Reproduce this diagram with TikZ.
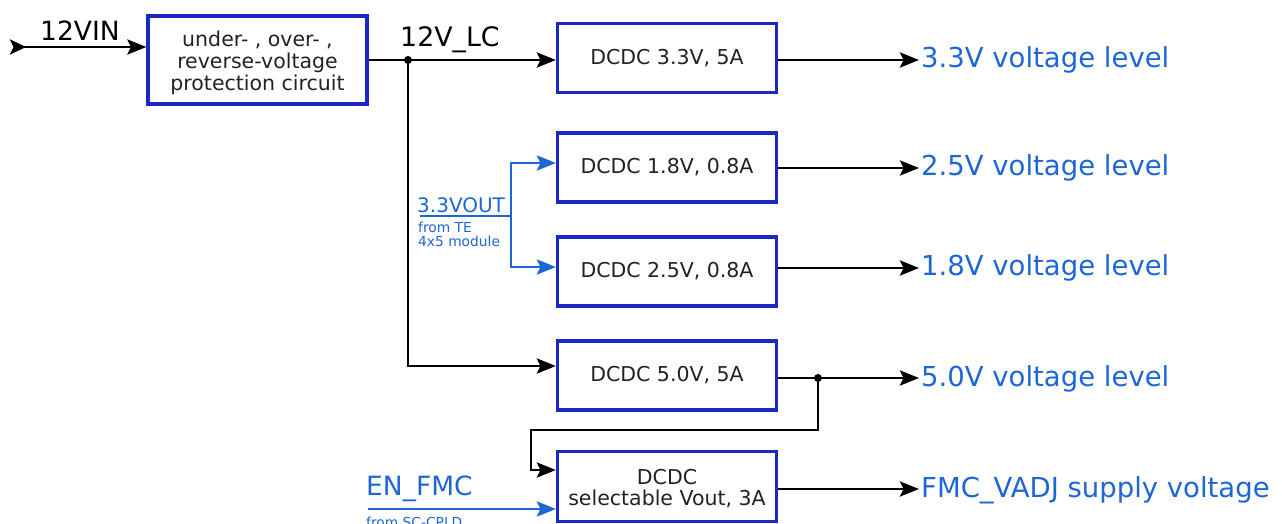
\documentclass[tikz,border=0pt]{standalone}
\usepackage{fontspec}
\setmainfont{DejaVu Sans}
\usetikzlibrary{arrows.meta,calc}
\definecolor{boxblue}{RGB}{28,40,196}
\definecolor{txtblue}{RGB}{30,102,212}
\definecolor{txtdark}{RGB}{34,34,34}
\begin{document}
\begin{tikzpicture}[x=1pt,y=-1pt,
  blk/.style={draw=boxblue, line width=3.2pt, minimum width=219pt, minimum height=69pt,
    align=center, font=\fontsize{20.5}{21.5}\selectfont, text=txtdark, inner sep=0pt},
  arr/.style={line width=2.8pt, draw=black, -{Stealth[length=19pt,width=15pt,inset=3.5pt]}},
  barr/.style={line width=2.8pt, draw=txtblue, -{Stealth[length=19pt,width=15pt,inset=3.5pt]}},
  outlbl/.style={anchor=base west, inner sep=0pt, text=txtblue, font=\fontsize{27.5}{29}\selectfont},
  biglbl/.style={anchor=base west, inner sep=0pt, font=\fontsize{26.8}{28}\selectfont},
  smlbl/.style={anchor=base west, inner sep=0pt, text=txtblue, font=\fontsize{13.8}{14}\selectfont},
  dot/.style={circle, fill=black, inner sep=0pt, minimum size=8pt}]
\useasboundingbox (0,0) rectangle (1282,524);

% boxes
\node[blk, minimum height=88pt, font=\fontsize{20.5}{22}\selectfont] (prot) at (257.5,60) {\rule{0pt}{22pt}under- , over- ,\\reverse-voltage\\protection circuit};
\node[blk] (d33) at (667,58) {DCDC 3.3V, 5A};
\node[blk] (d18) at (667,167.5) {DCDC 1.8V, 0.8A};
\node[blk] (d25) at (667,271.5) {DCDC 2.5V, 0.8A};
\node[blk] (d50) at (667,375.5) {DCDC 5.0V, 5A};
\node[blk, minimum height=70pt] (dsel) at (667,486.5) {\rule{0pt}{19pt}DCDC\\selectable Vout, 3A};

% input
\coordinate (vin) at (10,47);
\draw[line width=2.8pt, {Stealth[length=16pt,width=15pt,inset=3.5pt,reversed]}-{Stealth[length=19pt,width=15pt,inset=3.5pt]}] (vin) -- (prot.west |- vin);
\node[biglbl, font=\fontsize{26.5}{28}\selectfont] (lvin) at (40,41) {12VIN};

% 12V_LC
\coordinate (j1) at (408,60);
\draw[arr] (prot.east |- j1) -- (d33.west |- j1);
\node[biglbl] (llc) at (400,47) {12V\_LC};
\draw[arr] (j1) |- ($(d50.west)+(0,-9.5)$);
\node[dot] (dj1) at (j1) {};

% 3.3VOUT
\coordinate (b1) at (420,216);
\coordinate (b2) at (511,216);
\draw[line width=2.8pt, draw=txtblue] (b1) -- (b2);
\draw[barr] (b2) |- ($(d18.west)+(0,-4.5)$);
\draw[barr] (b2) |- ($(d25.west)+(0,-4.5)$);
\node[anchor=base west, inner sep=0pt, text=txtblue, font=\fontsize{20}{21}\selectfont] (l33out) at (417,212) {3.3VOUT};
\node[smlbl] (lte1) at (418,232) {from TE};
\node[smlbl] (lte2) at (418,246) {4x5 module};

% outputs
\coordinate (t33) at (919,60);
\coordinate (t18) at (919,168);
\coordinate (t25) at (919,268);
\coordinate (t50) at (919,378);
\coordinate (tsel) at (919,489);
\draw[arr] (d33.east |- t33) -- (t33);
\draw[arr] (d18.east |- t18) -- (t18);
\draw[arr] (d25.east |- t25) -- (t25);
\draw[arr] (d50.east |- t50) -- (t50);
\draw[arr] (dsel.east |- tsel) -- (tsel);
\node[outlbl] (o33) at ($(t33)+(2,7.5)$) {3.3V voltage level};
\node[outlbl] (o18) at ($(t18)+(2,7.5)$) {2.5V voltage level};
\node[outlbl] (o25) at ($(t25)+(2,7.5)$) {1.8V voltage level};
\node[outlbl] (o50) at ($(t50)+(2,8)$) {5.0V voltage level};
\node[outlbl] (osel) at ($(tsel)+(2,8)$) {FMC\_VADJ supply voltage};

% 5V feed to selectable
\coordinate (j2) at (818,378);
\coordinate (k1) at (531,430);
\draw[arr] (j2) |- (k1) |- ($(dsel.west)+(0,-16.5)$);
\node[dot] (dj2) at (j2) {};

% EN_FMC
\coordinate (en) at (368,509);
\draw[barr] (en) -- (dsel.west |- en);
\node[anchor=base west, inner sep=0pt, text=txtblue, font=\fontsize{26.5}{28}\selectfont] (len) at (366,495) {EN\_FMC};
\node[smlbl] (lcpld) at (366,527) {from SC-CPLD};
\end{tikzpicture}
\end{document}
